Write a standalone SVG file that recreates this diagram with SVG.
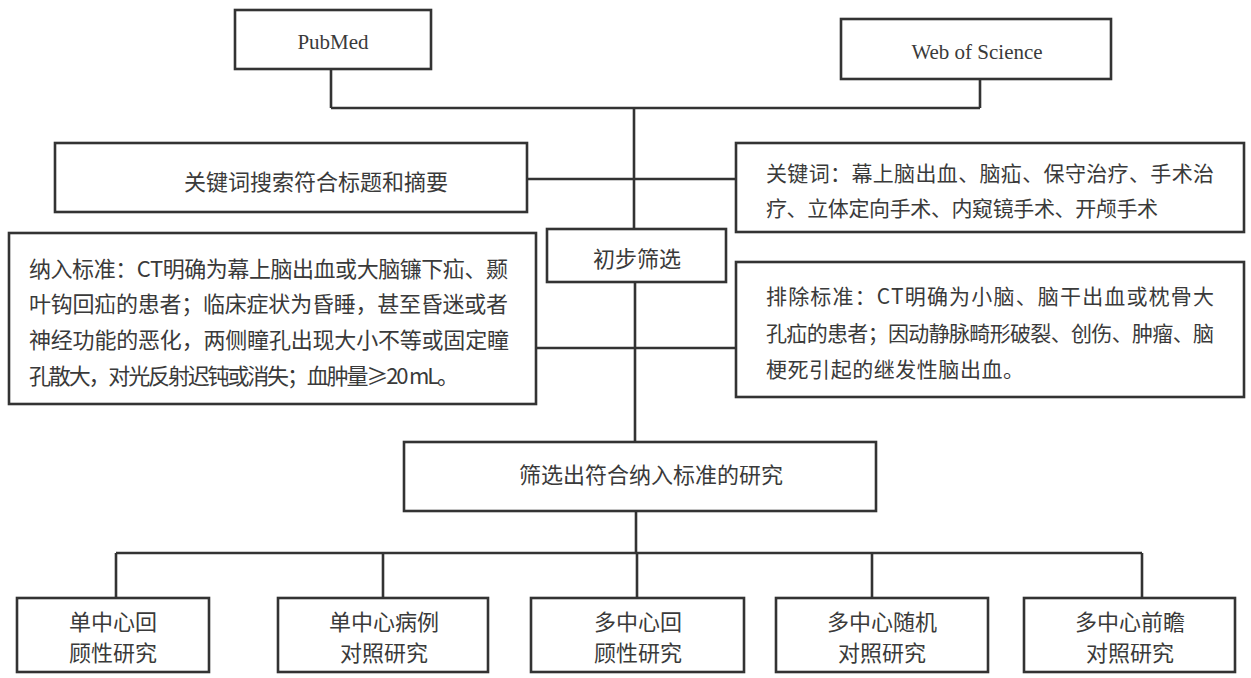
<svg xmlns="http://www.w3.org/2000/svg" width="1251" height="678" viewBox="0 0 1251 678">
<style>
.box{fill:#fff;stroke:#333;stroke-width:2.6}
.ln{fill:none;stroke:#333;stroke-width:2.6}
.t{font-family:"Noto Sans CJK SC","Noto Sans",sans-serif;font-size:22px;fill:#3a3a3a;dominant-baseline:central}
.s{font-size:21px}
.c{text-anchor:middle}
.en{font-family:"Liberation Serif",serif;font-size:21px;fill:#3a3a3a;dominant-baseline:central;text-anchor:middle}
</style>
<rect width="1251" height="678" fill="#fff"/>
<g id="connectors">
<path class="ln" d="M331 69V108M980 79V108M331 108H980M634 108V229M527 179H736M635 282V442M536 348H736M636 511V553M116 553H1142M116 553V598M383 553V598M637 553V598M872 553V598M1142 553V598"/>
</g>
<g id="pubmed"><rect class="box" x="235" y="10" width="196" height="59"/><text class="en" x="333" y="42">PubMed</text></g>
<g id="wos"><rect class="box" x="841" y="19" width="270" height="60"/><text class="en" x="977" y="52">Web of Science</text></g>
<g id="keysearch"><rect class="box" x="55" y="143" width="472" height="69"/><text class="t c" x="316" y="180">关键词搜索符合标题和摘要</text></g>
<g id="keywords"><rect class="box" x="736" y="143" width="508" height="89"/>
<text class="t s" x="766" y="172" textLength="448">关键词：幕上脑出血、脑疝、保守治疗、手术治</text>
<text class="t s" x="766" y="207" textLength="392">疗、立体定向手术、内窥镜手术、开颅手术</text></g>
<g id="prelim"><rect class="box" x="547" y="229" width="179" height="53"/><text class="t c" x="637" y="257">初步筛选</text></g>
<g id="inclusion"><rect class="box" x="9" y="233" width="527" height="171"/>
<text class="t" x="29" y="267" textLength="479">纳入标准：CT明确为幕上脑出血或大脑镰下疝、颞</text>
<text class="t" x="29" y="302" textLength="479">叶钩回疝的患者；临床症状为昏睡，甚至昏迷或者</text>
<text class="t" x="29" y="338" textLength="480">神经功能的恶化，两侧瞳孔出现大小不等或固定瞳</text>
<text class="t" x="29" y="374" textLength="430">孔散大，对光反射迟钝或消失；血肿量≥20 mL。</text></g>
<g id="exclusion"><rect class="box" x="736" y="262" width="508" height="135"/>
<text class="t s" x="766" y="295" textLength="448">排除标准：CT明确为小脑、脑干出血或枕骨大</text>
<text class="t s" x="766" y="332" textLength="448">孔疝的患者；因动静脉畸形破裂、创伤、肿瘤、脑</text>
<text class="t s" x="766" y="368" textLength="258">梗死引起的继发性脑出血。</text></g>
<g id="selected"><rect class="box" x="404" y="442" width="472" height="69"/><text class="t c" x="651" y="473">筛选出符合纳入标准的研究</text></g>
<g id="b1"><rect class="box" x="17" y="598" width="192" height="74"/><text class="t c" x="113" y="620">单中心回</text><text class="t c" x="113" y="651">顾性研究</text></g>
<g id="b2"><rect class="box" x="278" y="598" width="210" height="74"/><text class="t c" x="384" y="620">单中心病例</text><text class="t c" x="384" y="651">对照研究</text></g>
<g id="b3"><rect class="box" x="531" y="598" width="213" height="74"/><text class="t c" x="638" y="620">多中心回</text><text class="t c" x="638" y="651">顾性研究</text></g>
<g id="b4"><rect class="box" x="776" y="598" width="212" height="74"/><text class="t c" x="882" y="620">多中心随机</text><text class="t c" x="882" y="651">对照研究</text></g>
<g id="b5"><rect class="box" x="1024" y="598" width="211" height="74"/><text class="t c" x="1130" y="620">多中心前瞻</text><text class="t c" x="1130" y="651">对照研究</text></g>
</svg>
